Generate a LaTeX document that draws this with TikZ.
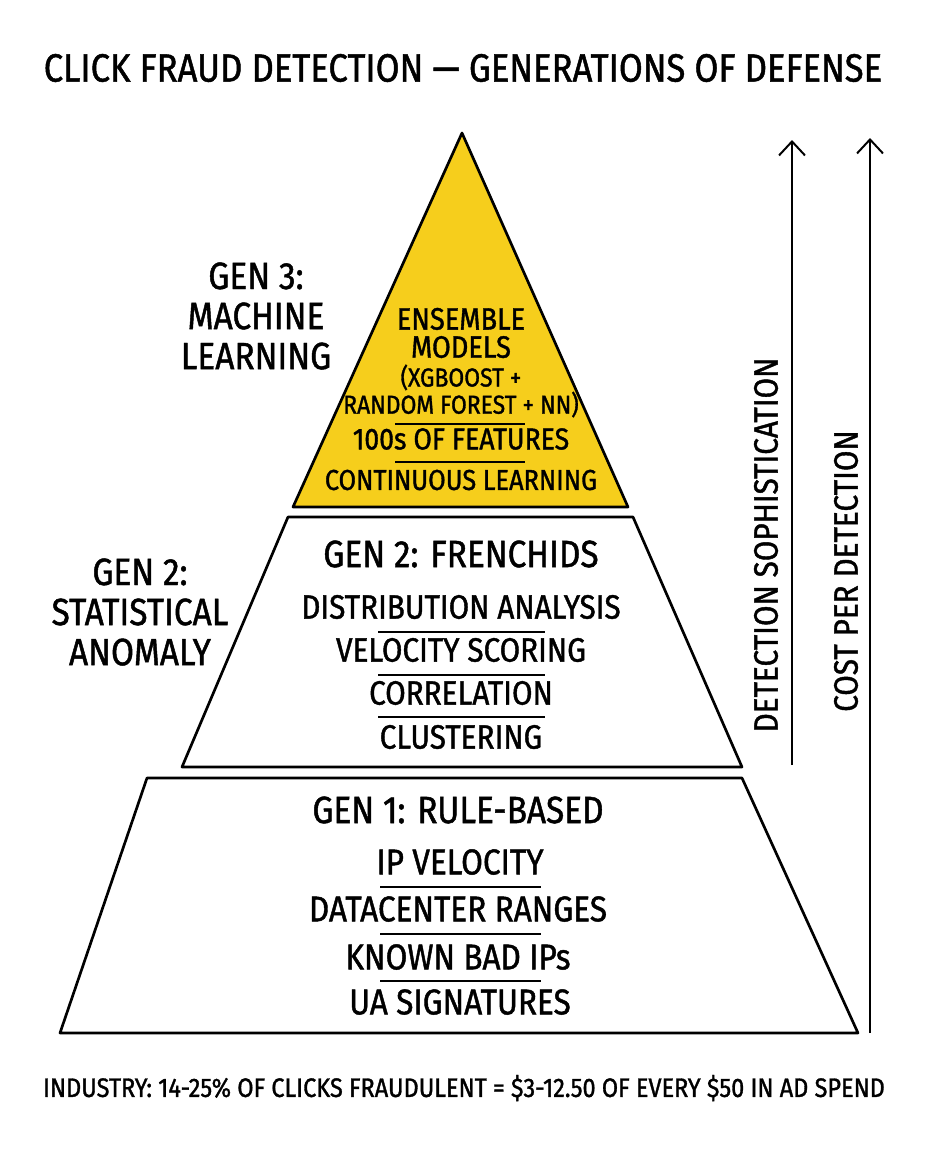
\documentclass[tikz,border=0pt]{standalone}
\usepackage{fontspec}
\setmainfont[FakeStretch=0.88, FakeBold=1.2]{Fira Sans}
\usetikzlibrary{arrows.meta}

\definecolor{genyellow}{RGB}{246,206,28}

\begin{document}
\begin{tikzpicture}[
  x=0.025cm, y=-0.025cm,
  every node/.style={inner sep=0pt, align=center, font=\fontsize{24}{28}\selectfont},
  title/.style={font=\fontsize{28}{32}\selectfont},
  side/.style={font=\fontsize{27}{28.5}\selectfont},
  head/.style={font=\fontsize{27}{30}\selectfont},
  big/.style={font=\fontsize{25.5}{30}\selectfont},
  stack/.style={font=\fontsize{22}{20}\selectfont},
  small/.style={font=\fontsize{18.5}{17}\selectfont},
  foot/.style={font=\fontsize{19}{22}\selectfont},
  tier/.style={draw=black, line width=1.9pt, line join=round},
  sep/.style={line width=1.1pt},
  arrow/.style={line width=1.4pt, -{Straight Barb[length=3.5mm, width=6.5mm, line width=1.4pt]}}
]
  \useasboundingbox (0,0) rectangle (928,1152);

  % tiers
  \filldraw [tier, fill=genyellow] (462,133) -- (628,507) -- (293,507) -- cycle;
  \draw [tier] (288,517) -- (633,517) -- (742,767) -- (182,767) -- cycle;
  \draw [tier] (147,778) -- (742,778) -- (858,1033) -- (60,1033) -- cycle;

  \node (title) [title] at (463,68) {CLICK FRAUD DETECTION — GENERATIONS OF DEFENSE};

  % side labels
  \node (gen3) [side] at (256,316) {GEN 3:\\MACHINE\\LEARNING};
  \node (gen2) [side] at (140,612) {GEN 2:\\STATISTICAL\\ANOMALY};

  % gen 3
  \node (ens) [stack] at (461,333) {ENSEMBLE\\MODELS};
  \node (xgb) [small] at (461,391) {(XGBOOST +\\RANDOM FOREST + NN)};
  \node (feat) [font=\fontsize{21.5}{24}\selectfont] at (461,439) {100s OF FEATURES};
  \node (cont) [font=\fontsize{20.5}{24}\selectfont] at (461,480) {CONTINUOUS LEARNING};
  \draw [sep] (395,424) -- (525,424);
  \draw [sep] (395,462) -- (525,462);

  % gen 2
  \node (g2head) [head] at (461,554) {GEN 2: FRENCHIDS};
  \node (dist) at (461,607) {DISTRIBUTION ANALYSIS};
  \node (velo) at (461,650) {VELOCITY SCORING};
  \node (corr) at (461,693) {CORRELATION};
  \node (clus) at (461,737) {CLUSTERING};
  \draw [sep] (378,632) -- (545,632);
  \draw [sep] (378,675) -- (545,675);
  \draw [sep] (378,717) -- (545,717);

  % gen 1
  \node (g1head) [head] at (458,810) {GEN 1: RULE-BASED};
  \node (ipv) [big] at (460,862) {IP VELOCITY};
  \node (dcr) [big] at (458,909) {DATACENTER RANGES};
  \node (bad) [big] at (458,957) {KNOWN BAD IPs};
  \node (uas) [big] at (460,1002) {UA SIGNATURES};
  \draw [sep] (380,887) -- (541,887);
  \draw [sep] (380,934) -- (541,934);
  \draw [sep] (380,981) -- (541,981);

  % axes
  \coordinate (sophlo) at (792,765);
  \coordinate (sophhi) at (792,140);
  \coordinate (costlo) at (870,1033);
  \coordinate (costhi) at (870,138);
  \draw [arrow] (sophlo) -- (sophhi);
  \draw [arrow] (costlo) -- (costhi);
  \node (soph) [rotate=90] at (766,545) {DETECTION SOPHISTICATION};
  \node (cost) [rotate=90] at (846,571) {COST PER DETECTION};

  \node (note) [foot] at (464,1088) {INDUSTRY: 14-25\% OF CLICKS FRAUDULENT = \$3-12.50 OF EVERY \$50 IN AD SPEND};
\end{tikzpicture}
\end{document}
